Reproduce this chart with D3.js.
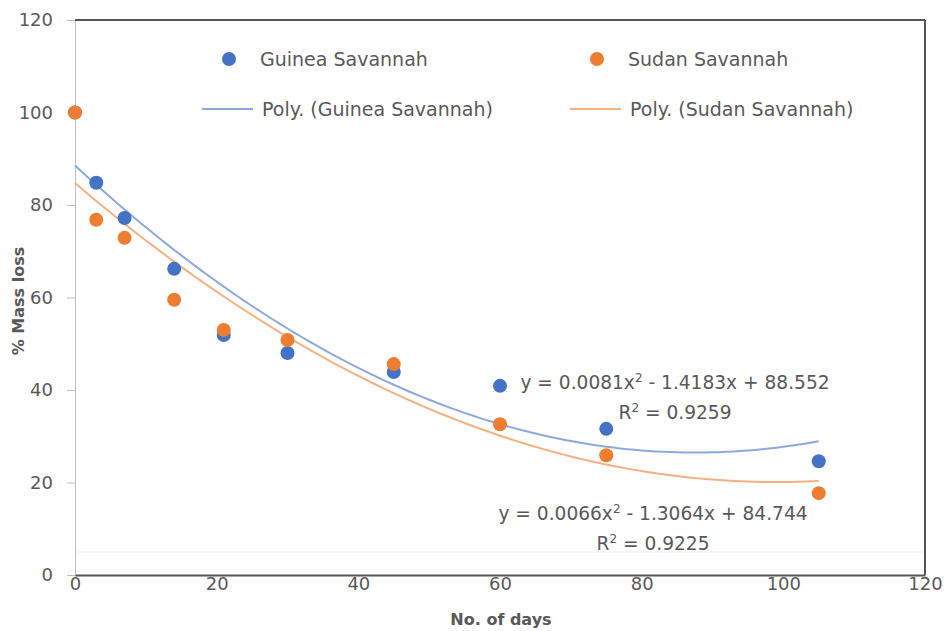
<!DOCTYPE html>
<html>
<head>
<meta charset="utf-8">
<script src="https://cdn.jsdelivr.net/npm/d3@7"></script>
<style>
  body { margin: 0; background: #fff; }
  text { font-family: "DejaVu Sans", sans-serif; fill: #595959; }
</style>
</head>
<body>
<div id="canvas"></div>
<script>
// data
const days = [0, 3, 7, 14, 21, 30, 45, 60, 75, 105];
const guinea = [100, 84.8, 77.2, 66.2, 51.9, 48.0, 43.9, 40.9, 31.6, 24.6];
const sudan = [100, 76.8, 72.9, 59.5, 53.0, 50.8, 45.6, 32.6, 25.9, 17.7];
const guineaFit = [0.0081, -1.4183, 88.552];
const sudanFit = [0.0066, -1.3064, 84.744];
const xTicks = [0, 20, 40, 60, 80, 100, 120];
const yTicks = [0, 20, 40, 60, 80, 100, 120];

const blue = "#4472c4", orange = "#ed7d31";
const blueLine = "#8eaadb", orangeLine = "#f4b183";

const margin = {top: 20, right: 21, bottom: 56, left: 75},
    width = 946 - margin.left - margin.right,
    height = 631 - margin.top - margin.bottom;

const svg = d3.select("#canvas")
    .append("svg")
    .attr("width", 946)
    .attr("height", 631),
g = svg.append("g")
    .attr("transform", "translate(" + margin.left + "," + margin.top + ")");

const x = d3.scaleLinear().domain([0, 120]).range([0, width]);
const y = d3.scaleLinear().domain([0, 120]).range([height, 0]);

// faint scan line above the axis
g.append("line")
    .attr("x1", 0).attr("x2", width)
    .attr("y1", height - 23).attr("y2", height - 23)
    .attr("stroke", "#ececec").attr("stroke-width", 1);

// y axis
const yAxis = g.append("g")
    .call(d3.axisLeft(y).tickValues(yTicks).tickSize(8).tickPadding(14));
yAxis.select(".domain").attr("stroke", "#bfbfbf");
yAxis.selectAll(".tick line").attr("stroke", "#bfbfbf");
yAxis.selectAll(".tick text").attr("fill", "#595959").style("font-size", "18px")
    .style("font-family", "DejaVu Sans");

// x axis
const xAxis = g.append("g")
    .attr("transform", "translate(0," + height + ")")
    .call(d3.axisBottom(x).tickValues(xTicks).tickSize(0).tickPadding(2));
xAxis.select(".domain").attr("stroke", "#555").attr("stroke-width", 2);
xAxis.selectAll(".tick text").attr("fill", "#595959").style("font-size", "18px")
    .style("font-family", "DejaVu Sans");

// frame top and right
g.append("line").attr("x1", 0).attr("x2", width).attr("y1", 0).attr("y2", 0)
    .attr("stroke", "#555").attr("stroke-width", 2);
g.append("line").attr("x1", width).attr("x2", width).attr("y1", 0).attr("y2", height)
    .attr("stroke", "#555").attr("stroke-width", 2);

// axis titles
svg.append("text")
    .attr("transform", "translate(24,301) rotate(-90)")
    .attr("text-anchor", "middle")
    .style("font-size", "16px").style("font-weight", "bold")
    .text("% Mass loss");
svg.append("text")
    .attr("x", 501).attr("y", 625)
    .attr("text-anchor", "middle")
    .style("font-size", "16px").style("font-weight", "bold")
    .text("No. of days");

// trendlines
const fitLine = d3.line()
    .x(d => x(d[0]))
    .y(d => y(d[1]));
function fitPoints(c) {
    return d3.range(0, 105.01, 1).map(t => [t, c[0] * t * t + c[1] * t + c[2]]);
}
g.append("path").datum(fitPoints(guineaFit))
    .attr("fill", "none").attr("stroke", blueLine).attr("stroke-width", 2)
    .attr("d", fitLine);
g.append("path").datum(fitPoints(sudanFit))
    .attr("fill", "none").attr("stroke", orangeLine).attr("stroke-width", 2)
    .attr("d", fitLine);

// points
g.selectAll(".guinea")
    .data(days)
    .join("circle")
    .attr("cx", d => x(d))
    .attr("cy", (d, i) => y(guinea[i]))
    .attr("r", 7)
    .attr("fill", blue);
g.selectAll(".sudan")
    .data(days)
    .join("circle")
    .attr("cx", d => x(d))
    .attr("cy", (d, i) => y(sudan[i]))
    .attr("r", 7)
    .attr("fill", orange);

// equations
function equation(px, py, c, r2) {
    const t = svg.append("text")
        .attr("x", px).attr("y", py)
        .attr("text-anchor", "middle")
        .style("font-size", "18.6px");
    t.append("tspan").text("y = " + c[0].toFixed(4) + "x");
    t.append("tspan").attr("dy", -7).style("font-size", "12px").text("2");
    t.append("tspan").attr("dy", 7).text(" - " + Math.abs(c[1]).toFixed(4) + "x + " + c[2].toFixed(3));
    const r = svg.append("text")
        .attr("x", px).attr("y", py + 30)
        .attr("text-anchor", "middle")
        .style("font-size", "18.6px");
    r.append("tspan").text("R");
    r.append("tspan").attr("dy", -7).style("font-size", "12px").text("2");
    r.append("tspan").attr("dy", 7).text(" = " + r2);
}
equation(675, 389, guineaFit, "0.9259");
equation(653, 520, sudanFit, "0.9225");

// legend
const legend = svg.append("g");
const legendItems = [
    {label: "Guinea Savannah", color: blue, type: "dot", x: 229, y: 59, tx: 260},
    {label: "Sudan Savannah", color: orange, type: "dot", x: 597, y: 59, tx: 628},
    {label: "Poly. (Guinea Savannah)", color: blueLine, type: "line", x: 228, y: 109, tx: 262},
    {label: "Poly. (Sudan Savannah)", color: orangeLine, type: "line", x: 596, y: 109, tx: 630}
];
legendItems.forEach(d => {
    if (d.type === "dot")
        legend.append("circle").attr("cx", d.x).attr("cy", d.y).attr("r", 7).attr("fill", d.color);
    else
        legend.append("line").attr("x1", d.x - 26).attr("x2", d.x + 25)
            .attr("y1", d.y).attr("y2", d.y)
            .attr("stroke", d.color).attr("stroke-width", 2);
    legend.append("text")
        .attr("x", d.tx)
        .attr("y", d.y)
        .attr("dy", "0.35em")
        .style("font-size", "19px")
        .text(d.label);
});
</script>
</body>
</html>
